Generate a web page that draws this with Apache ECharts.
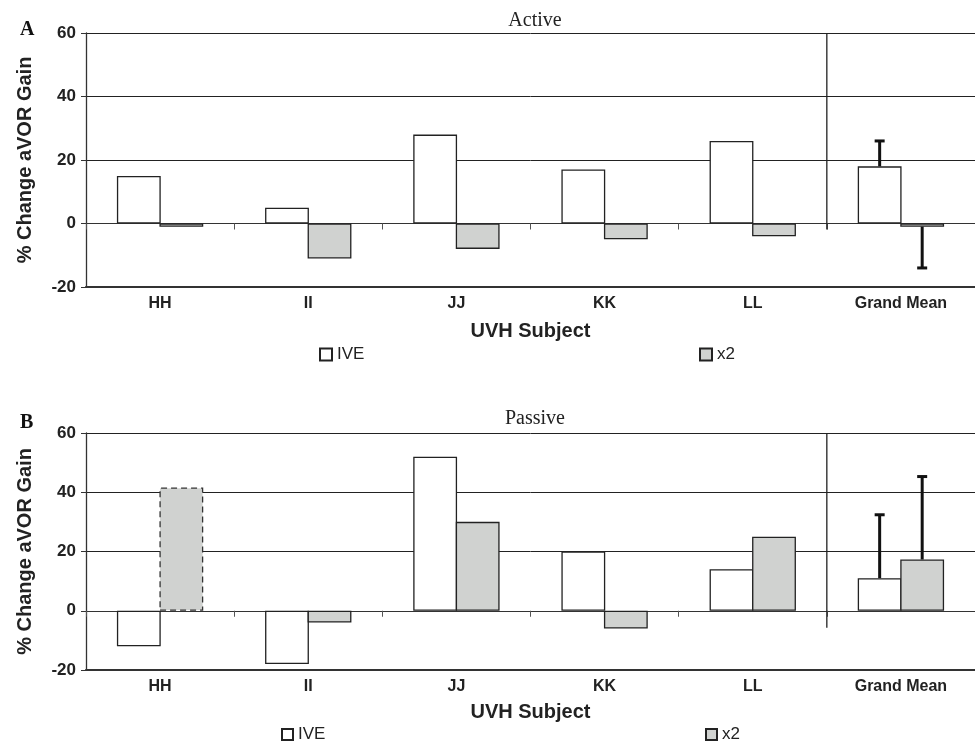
<!DOCTYPE html>
<html><head><meta charset="utf-8">
<script src="https://cdn.jsdelivr.net/npm/echarts@6/dist/echarts.min.js"></script>
<style>html,body{margin:0;padding:0;background:#fff}#c{width:975px;height:742px}</style>
</head><body><div id="c"></div>
<script>
const categories = ['HH', 'II', 'JJ', 'KK', 'LL', 'Grand Mean'];
const yMin = -20, yMax = 60, yStep = 20;
const activeIVE = [15, 5, 28, 17, 26, 18];
const activeX2 = [-1, -11, -8, -5, -4, -1];
const activeIVEErr = [null, null, null, null, null, 8];
const activeX2Err = [null, null, null, null, null, 13];
const passiveIVE = [-12, -18, 52, 20, 14, 11];
const passiveX2 = [41.6, -4, 30, -6, 25, 17.3];
const passiveIVEErr = [null, null, null, null, null, 21.4];
const passiveX2Err = [null, null, null, null, null, 28];
const dashedX2Passive = [true, false, false, false, false, false];

const BW = 0.287;
const BORDER = 1.3;
const FONT = 'Liberation Sans, Arial, sans-serif';
const SERIF = 'Liberation Serif, Times New Roman, serif';
const grids = [
  {left: 86, right: 0, top: 33, height: 254},
  {left: 86, right: 0, top: 433, height: 237}
];

function errRender(slot) {
  return function (params, api) {
    const ci = api.value(0), v = api.value(1), e = api.value(2);
    const c = api.coord([ci, v]);
    const cw = api.size([1, 0])[0];
    const x = c[0] + slot * cw * BW / 2;
    const end = api.coord([ci, v + Math.sign(v) * e]);
    return {type: 'group', children: [
      {type: 'line', shape: {x1: x, y1: c[1], x2: x, y2: end[1]}, style: {stroke: '#111', lineWidth: 3}},
      {type: 'line', shape: {x1: x - 5, y1: end[1], x2: x + 5, y2: end[1]}, style: {stroke: '#111', lineWidth: 3}}
    ]};
  };
}
function sepRender(ext) {
  return function (params, api) {
    const cw = api.size([1, 0])[0];
    const top = api.coord([4, yMax]);
    const zero = api.coord([4, 0]);
    const x = top[0] + cw / 2;
    return {type: 'line', shape: {x1: x, y1: top[1], x2: x, y2: zero[1] + ext}, style: {stroke: '#222', lineWidth: 1.3}};
  };
}
function errData(vals, errs) {
  return vals.map((v, i) => errs[i] == null ? null : [i, v, errs[i]]).filter(Boolean);
}

const xAxes = [], yAxes = [], series = [];
[0, 1].forEach(g => {
  xAxes.push({
    type: 'category', gridIndex: g, data: categories, position: 'bottom',
    axisLine: {onZero: false, lineStyle: {color: '#333', width: 2.2}},
    axisTick: {show: false},
    axisLabel: {fontFamily: FONT, fontWeight: 'bold', fontSize: 16, color: '#222', margin: 9, interval: 0},
    name: 'UVH Subject', nameLocation: 'middle', nameGap: g === 0 ? 34 : 32,
    nameTextStyle: {fontFamily: FONT, fontWeight: 'bold', fontSize: 20, color: '#222'}
  });
  xAxes.push({
    type: 'category', gridIndex: g, data: categories, position: 'top',
    axisLine: {onZero: true, lineStyle: {color: '#333', width: 1}},
    axisTick: {show: true, inside: true, length: 6, interval: 0, lineStyle: {color: '#555'}},
    axisLabel: {show: false}
  });
  yAxes.push({
    type: 'value', gridIndex: g, min: yMin, max: yMax, interval: yStep,
    axisLine: {show: true, lineStyle: {color: '#333', width: 1.3}},
    axisTick: {show: true, length: 5, lineStyle: {color: '#333'}},
    axisLabel: {fontFamily: FONT, fontWeight: 'bold', fontSize: 17, color: '#222', margin: 10},
    splitLine: {show: true, lineStyle: {color: '#222', width: 1}},
    name: '% Change aVOR Gain', nameLocation: 'middle', nameGap: 51, nameRotate: 90,
    nameTextStyle: {fontFamily: FONT, fontWeight: 'bold', fontSize: 20, color: '#222'}
  });
});

const sets = [
  {ive: activeIVE, x2: activeX2, ie: activeIVEErr, xe: activeX2Err, ext: 6},
  {ive: passiveIVE, x2: passiveX2, ie: passiveIVEErr, xe: passiveX2Err, ext: 17}
];
// ECharts insets each bar by its border width, so widen and overlap slightly to keep bars touching
const bandPx = (975 - 86) / categories.length;
const barWidthPct = ((BW * bandPx + BORDER) / bandPx * 100).toFixed(3) + '%';
const barGapPct = (-BORDER / (BW * bandPx + BORDER) * 100).toFixed(3) + '%';
sets.forEach((s, g) => {
  series.push({
    name: 'IVE', type: 'bar', xAxisIndex: g * 2, yAxisIndex: g, data: s.ive,
    barWidth: barWidthPct, barGap: barGapPct,
    itemStyle: {color: '#ffffff', borderColor: '#222', borderWidth: BORDER}
  });
  series.push({
    name: 'x2', type: 'bar', xAxisIndex: g * 2, yAxisIndex: g,
    data: s.x2.map((v, i) => (g === 1 && dashedX2Passive[i]) ? {value: v, itemStyle: {borderType: [6, 4], borderColor: '#333'}} : v),
    barWidth: barWidthPct, barGap: barGapPct,
    itemStyle: {color: '#d0d2d0', borderColor: '#222', borderWidth: BORDER}
  });
  series.push({type: 'custom', xAxisIndex: g * 2, yAxisIndex: g, renderItem: errRender(-1), data: errData(s.ive, s.ie), z: 5, silent: true});
  series.push({type: 'custom', xAxisIndex: g * 2, yAxisIndex: g, renderItem: errRender(1), data: errData(s.x2, s.xe), z: 5, silent: true});
  series.push({type: 'custom', xAxisIndex: g * 2, yAxisIndex: g, renderItem: sepRender(s.ext), data: [[4, yMax]], z: 4, silent: true});
});

const legendBase = {
  icon: 'rect', itemGap: 4, selectedMode: false,
  textStyle: {fontFamily: FONT, fontSize: 17, color: '#222'}
};
const legends = [
  Object.assign({}, legendBase, {left: 314, top: 341, itemWidth: 12, itemHeight: 12, data: ['IVE']}),
  Object.assign({}, legendBase, {left: 694, top: 341, itemWidth: 12, itemHeight: 12, data: ['x2']}),
  Object.assign({}, legendBase, {left: 276, top: 721, itemWidth: 11, itemHeight: 11, data: ['IVE']}),
  Object.assign({}, legendBase, {left: 700, top: 721, itemWidth: 11, itemHeight: 11, data: ['x2']})
];

const chart = echarts.init(document.getElementById('c'), null, {renderer: 'canvas'});
chart.setOption({
  animation: false,
  backgroundColor: '#fff',
  title: [
    {text: 'Active', left: 530, top: 6, textAlign: 'center', textStyle: {fontFamily: SERIF, fontWeight: 'normal', fontSize: 20, color: '#222'}},
    {text: 'Passive', left: 530, top: 404, textAlign: 'center', textStyle: {fontFamily: SERIF, fontWeight: 'normal', fontSize: 20, color: '#222'}},
    {text: 'A', left: 15, top: 15, textStyle: {fontFamily: SERIF, fontWeight: 'bold', fontSize: 20, color: '#111'}},
    {text: 'B', left: 15, top: 408, textStyle: {fontFamily: SERIF, fontWeight: 'bold', fontSize: 20, color: '#111'}}
  ],
  legend: legends,
  grid: grids,
  xAxis: xAxes,
  yAxis: yAxes,
  series: series
});
</script></body></html>
